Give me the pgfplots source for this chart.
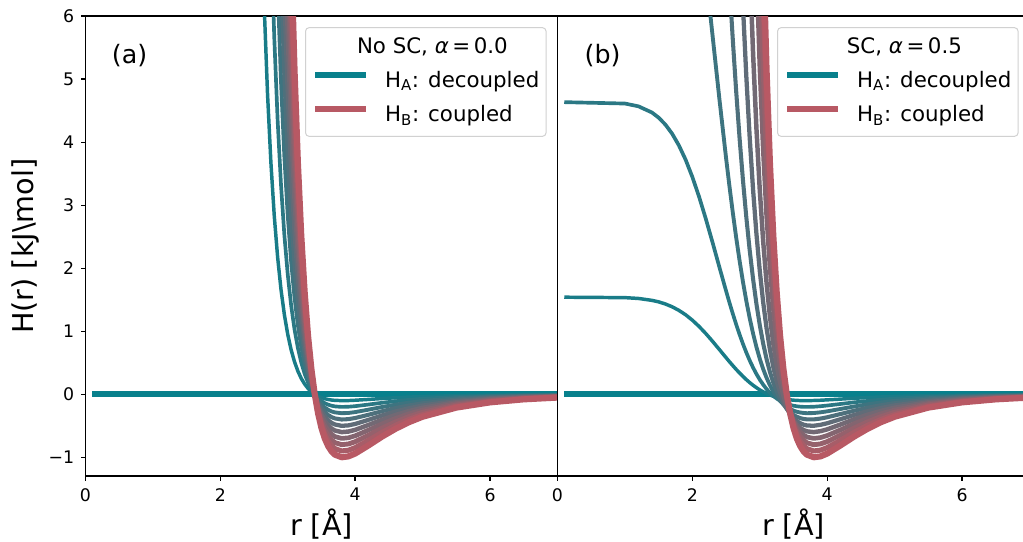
\documentclass[border=0pt]{standalone}
\usepackage{fontspec}
\setmainfont{DejaVu Sans}
\usepackage{pgfplots}
\usepackage{pgfplotstable}
\pgfplotsset{compat=1.18}

\definecolor{tealc}{RGB}{8,128,140}
\definecolor{pinkc}{RGB}{184,89,100}
\colorlet{c0}{tealc}
\colorlet{c1}{pinkc!10!tealc}
\colorlet{c2}{pinkc!20!tealc}
\colorlet{c3}{pinkc!30!tealc}
\colorlet{c4}{pinkc!40!tealc}
\colorlet{c5}{pinkc!50!tealc}
\colorlet{c6}{pinkc!60!tealc}
\colorlet{c7}{pinkc!70!tealc}
\colorlet{c8}{pinkc!80!tealc}
\colorlet{c9}{pinkc!90!tealc}
\colorlet{c10}{pinkc}

% panel (a): no soft core
\pgfplotstableread{
r l1 l2 l3 l4 l5 l6 l7 l8 l9 l10
2.50 13.484 26.968 40.452 53.936 67.420 80.904 94.388 107.872 121.356 134.84
2.55 10.380 20.760 31.140 41.520 51.900 62.280 72.660 83.040 93.420 103.80
2.60 8.003 16.005 24.008 32.010 40.013 48.016 56.018 64.021 72.023 80.026
2.65 6.175 12.349 18.524 24.699 30.874 37.048 43.223 49.398 55.572 61.747
2.70 4.765 9.530 14.294 19.059 23.824 28.589 33.354 38.118 42.883 47.648
2.75 3.674 7.349 11.023 14.697 18.372 22.046 25.720 29.394 33.069 36.743
2.80 2.828 5.657 8.485 11.313 14.142 16.970 19.798 22.626 25.455 28.283
2.85 2.171 4.342 6.513 8.684 10.855 13.026 15.197 17.368 19.539 21.710
2.90 1.659 3.318 4.977 6.636 8.296 9.955 11.614 13.273 14.932 16.591
2.95 1.260 2.520 3.780 5.040 6.300 7.560 8.820 10.080 11.340 12.600
3.00 0.949 1.897 2.846 3.794 4.743 5.691 6.640 7.588 8.537 9.486
3.05 0.705 1.411 2.116 2.822 3.527 4.232 4.938 5.643 6.349 7.054
3.10 0.516 1.031 1.547 2.063 2.578 3.094 3.609 4.125 4.641 5.156
3.15 0.368 0.735 1.103 1.471 1.838 2.206 2.574 2.941 3.309 3.677
3.20 0.252 0.505 0.757 1.010 1.262 1.515 1.767 2.020 2.272 2.525
3.25 0.163 0.326 0.489 0.652 0.815 0.978 1.141 1.304 1.467 1.630
3.30 0.094 0.188 0.282 0.375 0.469 0.563 0.657 0.751 0.845 0.939
3.35 0.041 0.081 0.122 0.163 0.203 0.244 0.284 0.325 0.366 0.406
3.40 0 0 0 0 0 0 0 0 0 0
3.45 -0.031 -0.061 -0.092 -0.123 -0.154 -0.184 -0.215 -0.246 -0.277 -0.307
3.50 -0.054 -0.107 -0.161 -0.215 -0.268 -0.322 -0.376 -0.429 -0.483 -0.537
3.55 -0.070 -0.141 -0.211 -0.282 -0.352 -0.423 -0.493 -0.564 -0.634 -0.705
3.60 -0.082 -0.165 -0.247 -0.330 -0.412 -0.494 -0.577 -0.659 -0.742 -0.824
3.65 -0.091 -0.181 -0.272 -0.362 -0.453 -0.544 -0.634 -0.725 -0.815 -0.906
3.70 -0.096 -0.192 -0.287 -0.383 -0.479 -0.575 -0.671 -0.767 -0.862 -0.958
3.80 -0.100 -0.200 -0.300 -0.400 -0.500 -0.600 -0.700 -0.799 -0.899 -0.999
3.90 -0.099 -0.197 -0.296 -0.394 -0.493 -0.591 -0.690 -0.788 -0.887 -0.985
4.00 -0.094 -0.188 -0.282 -0.376 -0.470 -0.564 -0.658 -0.752 -0.846 -0.940
4.20 -0.081 -0.162 -0.243 -0.324 -0.404 -0.485 -0.566 -0.647 -0.728 -0.809
4.40 -0.067 -0.134 -0.201 -0.268 -0.335 -0.402 -0.469 -0.536 -0.603 -0.670
4.60 -0.055 -0.109 -0.164 -0.218 -0.273 -0.328 -0.382 -0.437 -0.491 -0.546
4.80 -0.044 -0.088 -0.132 -0.177 -0.221 -0.265 -0.309 -0.353 -0.397 -0.441
5.00 -0.036 -0.071 -0.107 -0.143 -0.178 -0.214 -0.249 -0.285 -0.321 -0.356
5.50 -0.021 -0.042 -0.063 -0.084 -0.105 -0.126 -0.148 -0.169 -0.190 -0.211
6.00 -0.013 -0.026 -0.038 -0.051 -0.064 -0.077 -0.090 -0.102 -0.115 -0.128
6.50 -0.008 -0.016 -0.024 -0.032 -0.040 -0.048 -0.056 -0.064 -0.072 -0.080
7.00 -0.005 -0.010 -0.016 -0.021 -0.026 -0.031 -0.036 -0.041 -0.047 -0.052
}\tabA

% panel (b): soft core, alpha = 0.5
\pgfplotstableread{
r b1 b2 b3 b4 b5 b6 b7 b8 b9 b10
0.10 1.541 4.636 nan nan nan nan nan nan nan nan
1.00 1.534 4.614 nan nan nan nan nan nan nan nan
1.20 1.521 4.570 nan nan nan nan nan nan nan nan
1.40 1.491 4.472 nan nan nan nan nan nan nan nan
1.50 1.467 4.390 nan nan nan nan nan nan nan nan
1.60 1.433 4.280 nan nan nan nan nan nan nan nan
1.70 1.389 4.135 nan nan nan nan nan nan nan nan
1.80 1.332 3.950 nan nan nan nan nan nan nan nan
1.90 1.262 3.722 nan nan nan nan nan nan nan nan
2.00 1.176 3.448 nan nan nan nan nan nan nan nan
2.10 1.076 3.133 7.638 nan nan nan nan nan nan nan
2.20 0.963 2.782 6.682 nan nan nan nan nan nan nan
2.30 0.840 2.407 5.686 nan nan nan nan nan nan nan
2.40 0.711 2.020 4.694 9.573 nan nan nan nan nan nan
2.50 0.581 1.639 3.746 7.465 nan nan nan nan nan nan
2.55 0.517 1.454 3.301 6.505 nan nan nan nan nan nan
2.60 0.455 1.277 2.880 5.617 10.614 nan nan nan nan nan
2.65 0.395 1.108 2.485 4.802 8.939 nan nan nan nan nan
2.70 0.338 0.949 2.120 4.063 7.461 nan nan nan nan nan
2.75 0.284 0.800 1.785 3.399 6.167 10.669 nan nan nan nan
2.80 0.233 0.663 1.481 2.808 5.043 8.595 nan nan nan nan
2.85 0.186 0.537 1.208 2.286 4.075 6.860 11.469 nan nan nan
2.90 0.144 0.424 0.965 1.830 3.248 5.415 8.911 11.996 nan nan
2.95 0.105 0.322 0.750 1.434 2.546 4.219 6.858 9.161 11.053 12.600
3.00 0.070 0.232 0.563 1.095 1.955 3.234 5.215 6.926 8.331 9.486
3.05 0.039 0.153 0.401 0.805 1.461 2.427 3.903 5.165 6.200 7.054
3.10 0.013 0.084 0.262 0.560 1.050 1.770 2.858 3.780 4.534 5.156
3.15 -0.011 0.025 0.144 0.355 0.711 1.237 2.029 2.692 3.232 3.677
3.20 -0.031 -0.025 0.045 0.185 0.434 0.807 1.373 1.840 2.217 2.525
3.25 -0.047 -0.067 -0.037 0.046 0.209 0.464 0.857 1.175 1.428 1.630
3.30 -0.061 -0.101 -0.104 -0.067 0.029 0.191 0.452 0.658 0.816 0.939
3.35 -0.072 -0.128 -0.158 -0.158 -0.115 -0.023 0.138 0.259 0.346 0.406
3.40 -0.081 -0.151 -0.201 -0.229 -0.227 -0.190 -0.104 -0.047 -0.014 0
3.45 -0.088 -0.168 -0.234 -0.285 -0.313 -0.318 -0.288 -0.278 -0.287 -0.307
3.50 -0.093 -0.181 -0.259 -0.327 -0.379 -0.414 -0.426 -0.452 -0.490 -0.537
3.55 -0.097 -0.190 -0.277 -0.357 -0.426 -0.485 -0.527 -0.579 -0.639 -0.705
3.60 -0.099 -0.196 -0.289 -0.378 -0.460 -0.535 -0.599 -0.669 -0.745 -0.824
3.65 -0.100 -0.199 -0.296 -0.391 -0.482 -0.568 -0.648 -0.731 -0.817 -0.906
3.70 -0.100 -0.200 -0.300 -0.398 -0.495 -0.588 -0.678 -0.770 -0.864 -0.958
3.80 -0.098 -0.197 -0.297 -0.398 -0.499 -0.600 -0.700 -0.800 -0.899 -0.999
3.90 -0.094 -0.189 -0.286 -0.385 -0.484 -0.585 -0.687 -0.787 -0.886 -0.985
4.00 -0.088 -0.178 -0.270 -0.364 -0.459 -0.556 -0.654 -0.750 -0.845 -0.940
4.20 -0.076 -0.153 -0.232 -0.312 -0.394 -0.478 -0.562 -0.645 -0.727 -0.809
4.40 -0.063 -0.127 -0.193 -0.260 -0.327 -0.396 -0.466 -0.535 -0.602 -0.670
4.60 -0.052 -0.105 -0.158 -0.212 -0.268 -0.323 -0.380 -0.436 -0.491 -0.546
4.80 -0.042 -0.085 -0.129 -0.173 -0.217 -0.262 -0.308 -0.353 -0.397 -0.441
5.00 -0.034 -0.069 -0.104 -0.140 -0.176 -0.212 -0.249 -0.285 -0.321 -0.356
5.50 -0.021 -0.041 -0.062 -0.083 -0.105 -0.126 -0.147 -0.168 -0.190 -0.211
6.00 -0.013 -0.025 -0.038 -0.051 -0.064 -0.077 -0.090 -0.102 -0.115 -0.128
6.50 -0.008 -0.016 -0.024 -0.032 -0.040 -0.048 -0.056 -0.064 -0.072 -0.080
7.00 -0.005 -0.010 -0.015 -0.021 -0.026 -0.031 -0.036 -0.041 -0.047 -0.052
}\tabB

\pgfplotsset{
  panel/.style={
    scale only axis, width=354pt, height=345pt,
    xmin=0, xmax=7, ymin=-1.3, ymax=6,
    axis line style={line width=1.1pt},
    tick style={black, line width=1.1pt},
    major tick length=3.3pt,
    tick align=outside,
    xtick={0,2,4,6},
    xtick pos=left, ytick pos=left,
    /pgf/number format/assume math mode=true,
    ticklabel style={font=\fontsize{13}{15}\selectfont, inner sep=0pt},
    xticklabel style={yshift=-5.5pt},
    yticklabel style={xshift=-5pt},
    every axis x label/.style={at={(axis description cs:0.5,0)}, yshift=-44.8pt, anchor=base, font=\fontsize{21.5}{25}\selectfont},
    xlabel={r [Å]},
    no marks,
    every axis plot/.append style={line join=round},
    legend cell align=left,
    legend image code/.code={\draw[##1, line cap=butt] (0pt,5.3pt) -- (38pt,5.3pt);},
    legend style={at={(0.9767,0.976)}, anchor=north east, draw=black!18, line width=0.75pt,
      rounded corners=2.5pt, fill=white, fill opacity=0.8, text opacity=1,
      inner xsep=5pt, inner ysep=7pt, font=\fontsize{16}{19}\selectfont,
      row sep=9.7pt, column sep=12pt,
      nodes={inner sep=0pt, text height=12pt, text depth=4pt}},
  },
}

\begin{document}
\begin{tikzpicture}
\begin{axis}[panel, at={(0pt,0pt)}, anchor=south west,
  ytick={-1,0,1,2,3,4,5,6},
  yticklabels={−1,0,1,2,3,4,5,6},
  every axis y label/.style={at={(axis description cs:0,0.5)}, xshift=-39pt, rotate=90, anchor=base, font=\fontsize{21.5}{25}\selectfont},
  ylabel={H(r) [kJ\textbackslash mol]},
]
\addlegendimage{empty legend}
\addlegendentry{\hspace*{35.5pt}\makebox[0pt]{No SC, \textit{α}\,=\,0.0}}
\addlegendimage{c0, line width=4.6pt}
\addlegendentry{H\textsubscript{A}: decoupled}
\addlegendimage{c10, line width=4.6pt}
\addlegendentry{H\textsubscript{B}: coupled}
\addplot[c0, line width=4.6pt, forget plot] coordinates {(0.1,0) (7,0)};
\addplot[c1, line width=2.6pt, forget plot] table[x=r,y=l1]{\tabA};
\addplot[c2, line width=2.75pt, forget plot] table[x=r,y=l2]{\tabA};
\addplot[c3, line width=2.9pt, forget plot] table[x=r,y=l3]{\tabA};
\addplot[c4, line width=3.05pt, forget plot] table[x=r,y=l4]{\tabA};
\addplot[c5, line width=3.2pt, forget plot] table[x=r,y=l5]{\tabA};
\addplot[c6, line width=3.35pt, forget plot] table[x=r,y=l6]{\tabA};
\addplot[c7, line width=3.5pt, forget plot] table[x=r,y=l7]{\tabA};
\addplot[c8, line width=3.65pt, forget plot] table[x=r,y=l8]{\tabA};
\addplot[c9, line width=3.8pt, forget plot] table[x=r,y=l9]{\tabA};
\addplot[c10, line width=4.6pt, forget plot] table[x=r,y=l10]{\tabA};
\node[anchor=base west, inner sep=0pt, font=\fontsize{19}{22}\selectfont] at (axis description cs:0.0555,0.8963) {(a)};
\end{axis}

\begin{axis}[panel, at={(354pt,0pt)}, anchor=south west,
  ytick=\empty,
]
\addlegendimage{empty legend}
\addlegendentry{\hspace*{35.5pt}\makebox[0pt]{SC, \textit{α}\,=\,0.5}}
\addlegendimage{c0, line width=4.6pt}
\addlegendentry{H\textsubscript{A}: decoupled}
\addlegendimage{c10, line width=4.6pt}
\addlegendentry{H\textsubscript{B}: coupled}
\addplot[c0, line width=4.6pt, forget plot] coordinates {(0.1,0) (7,0)};
\addplot[c1, line width=2.6pt, forget plot] table[x=r,y=b1]{\tabB};
\addplot[c2, line width=2.75pt, forget plot] table[x=r,y=b2]{\tabB};
\addplot[c3, line width=2.9pt, forget plot] table[x=r,y=b3]{\tabB};
\addplot[c4, line width=3.05pt, forget plot] table[x=r,y=b4]{\tabB};
\addplot[c5, line width=3.2pt, forget plot] table[x=r,y=b5]{\tabB};
\addplot[c6, line width=3.35pt, forget plot] table[x=r,y=b6]{\tabB};
\addplot[c7, line width=3.5pt, forget plot] table[x=r,y=b7]{\tabB};
\addplot[c8, line width=3.65pt, forget plot] table[x=r,y=b8]{\tabB};
\addplot[c9, line width=3.8pt, forget plot] table[x=r,y=b9]{\tabB};
\addplot[c10, line width=4.6pt, forget plot] table[x=r,y=b10]{\tabB};
\node[anchor=base west, inner sep=0pt, font=\fontsize{19}{22}\selectfont] at (axis description cs:0.057,0.8963) {(b)};
\end{axis}

\pgfresetboundingbox
\useasboundingbox (-64.1pt,-49.3pt) rectangle (703.1pt,357.15pt);
\end{tikzpicture}
\end{document}
